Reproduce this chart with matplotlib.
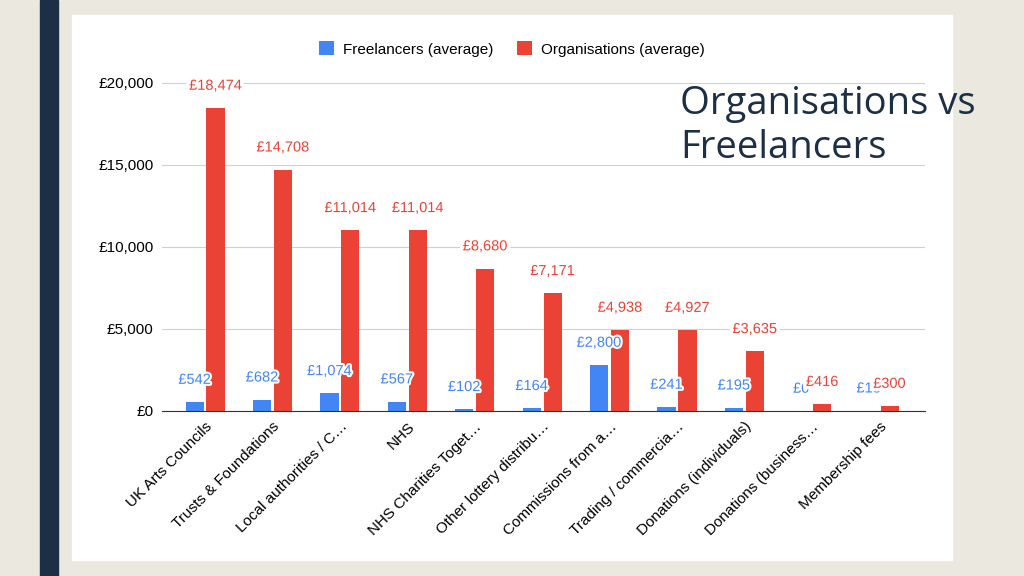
import matplotlib.pyplot as plt
import matplotlib.patches as patches
import matplotlib.patheffects as pe
import numpy as np

categories = ['UK Arts Councils', 'Trusts & Foundations', 'Local authorities / C…', 'NHS',
              'NHS Charities Toget…', 'Other lottery distribu…', 'Commissions from a…',
              'Trading / commercia…', 'Donations (individuals)', 'Donations (business…',
              'Membership fees']
freelancers = [542, 682, 1074, 567, 102, 164, 2800, 241, 195, 0, 15]
organisations = [18474, 14708, 11014, 11014, 8680, 7171, 4938, 4927, 3635, 416, 300]
yticks = [0, 5000, 10000, 15000, 20000]

blue = '#4285F4'
red = '#EA4335'

plt.rcParams['font.family'] = ['Liberation Sans', 'DejaVu Sans']

fig = plt.figure(figsize=(10.24, 5.76), dpi=100)
fig.patch.set_facecolor('#EBE8DF')

# slide decorations
fig.add_artist(patches.Rectangle((40 / 1024, 0), 18 / 1024, 1, transform=fig.transFigure,
                                 color='#1C2F44', zorder=0))
fig.add_artist(patches.Rectangle((72 / 1024, 1 - 560 / 576), 880 / 1024, 545 / 576,
                                 transform=fig.transFigure, color='white', zorder=0))

ax = fig.add_axes([162 / 1024, 1 - 411 / 576, 763 / 1024, 328 / 576])
ax.set_facecolor('none')

x = np.arange(len(categories))
w = 0.27
b1 = ax.bar(x - 0.155, freelancers, w, color=blue, label='Freelancers (average)', zorder=3)
b2 = ax.bar(x + 0.155, organisations, w, color=red, label='Organisations (average)', zorder=3)

for rect, v in zip(b1, freelancers):
    ax.annotate('£{:,}'.format(v), (rect.get_x() + rect.get_width() / 2, v),
                xytext=(0, 11), textcoords='offset points', ha='center', va='bottom',
                color=blue, fontsize=10.5, zorder=4, annotation_clip=False,
                path_effects=[pe.withStroke(linewidth=3, foreground='white')])
for rect, v in zip(b2, organisations):
    ax.annotate('£{:,}'.format(v), (rect.get_x() + rect.get_width() / 2, v),
                xytext=(0, 11), textcoords='offset points', ha='center', va='bottom',
                color=red, fontsize=10.5, zorder=5, annotation_clip=False,
                path_effects=[pe.withStroke(linewidth=5, foreground='white')])

ax.set_xlim(-0.64, 10.68)
ax.set_ylim(0, 20000)
ax.set_yticks(yticks)
ax.set_yticklabels(['£{:,}'.format(t) for t in yticks], fontsize=11)
ax.grid(axis='y', color='#D0D0D0', linewidth=0.8, zorder=0)
ax.set_xticks(x)
ax.set_xticklabels(categories, rotation=45, ha='right', rotation_mode='anchor', fontsize=11)
ax.tick_params(length=0, pad=6)
for s in ['top', 'right', 'left']:
    ax.spines[s].set_visible(False)
ax.spines['bottom'].set_color('#333333')
ax.spines['bottom'].set_zorder(4)

fig.legend(handles=[b1, b2], loc='center', bbox_to_anchor=(512 / 1024, 1 - 49 / 576),
           ncol=2, frameon=False, fontsize=11, handlelength=1, handleheight=1,
           columnspacing=1.5, handletextpad=0.6)

fig.text(680 / 1024, 1 - 85 / 576, 'Organisations vs\nFreelancers', fontsize=27.5,
         color='#1C2F44', va='top', ha='left', family='Open Sans', linespacing=1.2)

fig.savefig('out.png', dpi=100, facecolor=fig.get_facecolor())
